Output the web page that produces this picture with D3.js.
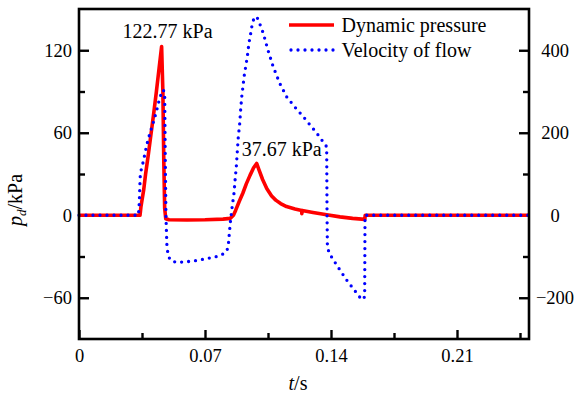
<!DOCTYPE html>
<html>
<head>
<meta charset="utf-8">
<script src="https://cdn.jsdelivr.net/npm/d3@7"></script>
<style>
  html, body { margin: 0; padding: 0; background: #fff; }
  svg text { font-family: "Liberation Serif", "Times New Roman", serif !important; }
</style>
</head>
<body>
<svg id="chart" width="578" height="399"></svg>
<script>
// Time axis (s)
const xTicks = [0, 0.07, 0.14, 0.21];
const xMinorTicks = [0.035, 0.105, 0.175, 0.245];
// Left axis: dynamic pressure (kPa)
const pTicks = [-60, 0, 60, 120];
const pMinorTicks = [-30, 30, 90];
// Right axis: flow velocity
const vTicks = [-200, 0, 200, 400];
const vMinorTicks = [-100, 100, 300];

// Dynamic pressure series
const pressureTime = [
  0, 0.0339, 0.0344, 0.0350, 0.0360, 0.0370, 0.0385, 0.0400, 0.0415, 0.0430, 0.0445, 0.0459,
  0.0466, 0.0471, 0.0476, 0.0482, 0.0500, 0.0600, 0.0700, 0.0800, 0.0840, 0.0858, 0.0870,
  0.0890, 0.0910, 0.0930, 0.0950, 0.0970, 0.0987, 0.1000, 0.1020, 0.1043, 0.1070, 0.1093,
  0.1120, 0.1153, 0.1200, 0.1237, 0.1238, 0.1240, 0.1300, 0.1376, 0.1450, 0.1520, 0.1588,
  0.1590, 0.25
];
const pressureValue = [
  0, 0, 6, 11, 19, 30, 44, 59, 74, 90, 107, 122.77,
  90, 40, 5, -2.5, -3.3, -3.5, -3.3, -2.8, -2.3, 0, 3.5,
  10, 16, 23, 29, 34.5, 37.67, 33, 26, 19.5, 14, 11,
  8.5, 6.3, 4.5, 3.5, 1.2, 3.4, 2, 0.3, -1.2, -2.3, -3,
  0, 0
];

// Flow velocity series
const velocityTime = [
  0, 0.0330, 0.0335, 0.0338, 0.0341, 0.0357, 0.0376, 0.0394, 0.0413, 0.0432, 0.0450, 0.0468,
  0.0476, 0.0479, 0.0483, 0.0488, 0.0495, 0.0510, 0.0540, 0.0561, 0.0635, 0.0700, 0.0766,
  0.0800, 0.0822, 0.0830, 0.0836, 0.0842, 0.0851, 0.0861, 0.0867, 0.0874, 0.0880, 0.0885,
  0.0893, 0.0898, 0.0904, 0.0911, 0.0917, 0.0926, 0.0935, 0.0944, 0.0954, 0.0963, 0.0972,
  0.0985, 0.0995, 0.1024, 0.1050, 0.1079, 0.1115, 0.1154, 0.1200, 0.1246, 0.1321, 0.1376,
  0.1378, 0.1380, 0.1390, 0.1413, 0.1450, 0.1487, 0.1543, 0.1571, 0.1587, 0.1589, 0.25
];
const velocityValue = [
  0, 0, 30, 70, 102, 130, 170, 199, 225, 255, 287, 304,
  296, 150, 0, -70, -98, -110, -114, -114, -111, -106, -100,
  -94, -86, -70, -40, -12, 21, 53, 85, 118, 158, 190,
  223, 255, 287, 312, 336, 360, 384, 417, 441, 465, 477,
  482, 475, 441, 400, 360, 320, 287, 262, 239, 199, 166,
  0, -76, -92, -108, -133, -157, -189, -205, -198, 0, 0
];

const seriesNames = ["Dynamic pressure", "Velocity of flow"];
const xLabel = "s";
const yLabelUnit = "/kPa";

const svg = d3.select("#chart");
const margin = { left: 79, right: 49, top: 9, bottom: 60 };
const W = 578, H = 399;
const x0 = margin.left, x1 = W - margin.right;
const y0 = margin.top, y1 = H - margin.bottom;

const x = d3.scaleLinear().domain([0, 0.25]).range([x0, x1]);
const yP = d3.scaleLinear().domain([-90, 150]).range([y1, y0]);
const yV = d3.scaleLinear().domain([-300, 500]).range([y1, y0]);

const fontTick = 18.5;

function styleAxis(g) {
  g.select(".domain").remove();
  g.selectAll(".tick line").attr("stroke", "#000").attr("stroke-width", 2.4);
  g.selectAll(".tick text").attr("font-size", fontTick).attr("fill", "#000");
}

// Bottom axis
svg.append("g").attr("transform", `translate(0,${y1})`)
  .call(d3.axisBottom(x).tickValues(xTicks).tickSize(-9).tickPadding(9.5)
    .tickFormat(d => d === 0 ? "0" : d3.format(".2f")(d)))
  .call(styleAxis);
svg.append("g").attr("transform", `translate(0,${y1})`)
  .call(d3.axisBottom(x).tickValues(xMinorTicks).tickSize(-6).tickFormat(""))
  .call(styleAxis);

// Left axis
svg.append("g").attr("transform", `translate(${x0},0)`)
  .call(d3.axisLeft(yP).tickValues(pTicks).tickSize(-10).tickPadding(7))
  .call(styleAxis);
svg.append("g").attr("transform", `translate(${x0},0)`)
  .call(d3.axisLeft(yP).tickValues(pMinorTicks).tickSize(-6).tickFormat(""))
  .call(styleAxis);

// Right axis
const rightAxis = svg.append("g").attr("transform", `translate(${x1},0)`)
  .call(d3.axisRight(yV).tickValues(vTicks).tickSize(-10).tickPadding(8))
  .call(styleAxis);
rightAxis.selectAll(".tick text").attr("text-anchor", "middle").attr("x", 26);
svg.append("g").attr("transform", `translate(${x1},0)`)
  .call(d3.axisRight(yV).tickValues(vMinorTicks).tickSize(-6).tickFormat(""))
  .call(styleAxis);

// Curves
const pressureLine = d3.line()
  .x((d, i) => x(pressureTime[i]))
  .y(d => yP(d));
const velocityLine = d3.line()
  .x((d, i) => x(velocityTime[i]))
  .y(d => yV(d));

svg.append("path").datum(pressureValue)
  .attr("d", pressureLine)
  .attr("fill", "none").attr("stroke", "#ff0000").attr("stroke-width", 3.6)
  .attr("stroke-linejoin", "round");

svg.append("path").datum(velocityValue)
  .attr("d", velocityLine)
  .attr("fill", "none").attr("stroke", "#0000ff").attr("stroke-width", 3.3)
  .attr("stroke-linecap", "round").attr("stroke-dasharray", "0,7");

// Frame
svg.append("rect").attr("x", x0).attr("y", y0)
  .attr("width", x1 - x0).attr("height", y1 - y0)
  .attr("fill", "none").attr("stroke", "#000").attr("stroke-width", 2.6);

// Peak annotations
const peaks = [
  { i: pressureValue.indexOf(d3.max(pressureValue.slice(0, 20))), dx: 6, dy: -8 },
  { i: pressureValue.indexOf(d3.max(pressureValue.slice(20))), dx: 25, dy: -7 }
];
peaks.forEach(p => {
  const v = pressureValue[p.i];
  svg.append("text")
    .attr("x", x(pressureTime[p.i]) + p.dx)
    .attr("y", yP(v) + p.dy)
    .attr("text-anchor", "middle")
    .attr("font-size", 20)
    .text(`${v.toFixed(2)} kPa`);
});

// Legend
const legend = svg.append("g");
legend.append("line").attr("x1", 289).attr("x2", 334).attr("y1", 25).attr("y2", 25)
  .attr("stroke", "#ff0000").attr("stroke-width", 3.6);
legend.append("line").attr("x1", 291).attr("x2", 334).attr("y1", 50).attr("y2", 50)
  .attr("stroke", "#0000ff").attr("stroke-width", 3.3)
  .attr("stroke-linecap", "round").attr("stroke-dasharray", "0,7");
legend.append("text").attr("x", 341.5).attr("y", 32).attr("font-size", 20).text(seriesNames[0]);
legend.append("text").attr("x", 341.5).attr("y", 57).attr("font-size", 20).text(seriesNames[1]);

// Axis titles
const xt = svg.append("text").attr("x", 298).attr("y", 390)
  .attr("text-anchor", "middle").attr("font-size", 20);
xt.append("tspan").attr("font-style", "italic").text("t");
xt.append("tspan").text("/" + xLabel);

const yt = svg.append("text")
  .attr("transform", "translate(22,200) rotate(-90)")
  .attr("text-anchor", "middle").attr("font-size", 20);
yt.append("tspan").attr("font-style", "italic").text("p");
yt.append("tspan").attr("font-style", "italic").attr("font-size", 13).attr("dy", 4).text("d");
yt.append("tspan").attr("dy", -4).text(yLabelUnit);
</script>
</body>
</html>
